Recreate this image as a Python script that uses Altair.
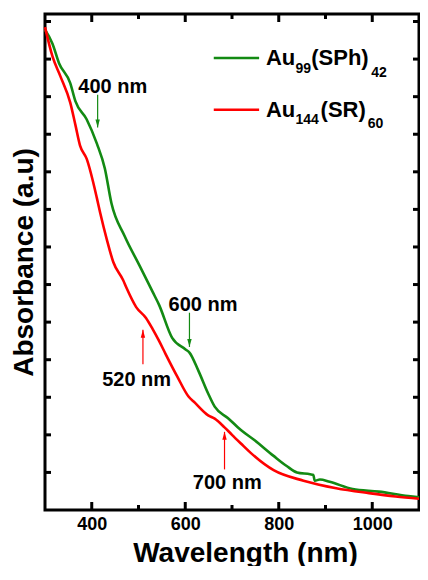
import altair as alt
import pandas as pd

# ---- data ----
green_nm = [300, 316, 330, 354, 365, 389, 411, 428, 442, 470, 502, 530, 544, 572, 600, 609,
            628, 649, 663, 691, 719, 747, 789, 817, 839, 867, 874, 877, 888, 909, 958, 1014,
            1077, 1100]
green_abs = [1.278, 1.241, 1.189, 1.136, 1.088, 1.040, 0.975, 0.909, 0.817, 0.730, 0.651,
             0.581, 0.546, 0.458, 0.428, 0.419, 0.371, 0.310, 0.275, 0.245, 0.213, 0.187,
             0.144, 0.117, 0.100, 0.095, 0.093, 0.078, 0.081, 0.075, 0.056, 0.049, 0.037, 0.034]

red_nm = [300, 316, 333, 354, 365, 375, 389, 411, 418, 432, 446, 467, 474, 495, 516, 530,
          544, 558, 583, 607, 621, 649, 663, 684, 700, 719, 740, 789, 853, 923, 993, 1050, 1100]
red_abs = [1.285, 1.207, 1.154, 1.084, 1.025, 0.970, 0.935, 0.830, 0.791, 0.721, 0.660,
           0.612, 0.592, 0.540, 0.511, 0.482, 0.450, 0.415, 0.355, 0.302, 0.285, 0.252,
           0.243, 0.220, 0.200, 0.177, 0.152, 0.106, 0.078, 0.058, 0.045, 0.036, 0.030]

series_names = ["Au99(SPh)42", "Au144(SR)60"]
series_colors = ["#138a13", "#ff0000"]

x_major = [400, 600, 800, 1000]
x_minor = [500, 700, 900]
y_ticks = [0.1, 0.2, 0.3, 0.4, 0.5, 0.6, 0.7, 0.8, 0.9, 1.0, 1.1, 1.2, 1.3]

ann_text = ["400 nm", "600 nm", "520 nm", "700 nm"]
ann_x = [445, 638, 496, 690]
ann_y = [1.110, 0.530, 0.331, 0.055]

arrow_x = [412.6, 609, 509.5, 684]
arrow_tail = [1.105, 0.525, 0.388, 0.108]
arrow_tip = [1.018, 0.434, 0.480, 0.208]
arrow_series = ["Au99(SPh)42", "Au99(SPh)42", "Au144(SR)60", "Au144(SR)60"]
arrow_dir = ["down", "down", "up", "up"]

leg_series = ["Au99(SPh)42", "Au144(SR)60"]
leg_x1 = [661, 661]
leg_x2 = [758, 758]
leg_y = [1.203, 1.065]

leg_big_text = ["Au", "(SPh)", "Au", "(SR)"]
leg_big_x = [772.6, 869.5, 772.6, 889.5]
leg_big_y = [1.185, 1.185, 1.046, 1.046]
leg_sub_text = ["99", "42", "144", "60"]
leg_sub_x = [835.8, 997.9, 835.8, 990.5]
leg_sub_y = [1.164, 1.153, 1.028, 1.017]

# ---- chart ----
W, H = 374, 496
FONT = "Liberation Sans"

xscale = alt.Scale(domain=[300, 1100], nice=False, zero=False)
yscale = alt.Scale(domain=[0, 1.32], nice=False, zero=False)
xaxis = alt.Axis(values=x_major, format="d", title="Wavelength (nm)", ticks=False, tickSize=0,
                 domain=False, grid=False, labelFontSize=18, labelFont=FONT,
                 labelFontWeight="bold", labelPadding=5, labelColor="black",
                 titleFontSize=28, titleFont=FONT, titleFontWeight="bold", titleColor="black",
                 titleX=200, titleY=51, titleBaseline="alphabetic", titleAlign="center")
yaxis = alt.Axis(title="Absorbance (a.u)", ticks=False, tickSize=0, domain=False, grid=False,
                 labels=False, titleFontSize=28, titleFont=FONT, titleFontWeight="bold",
                 titleColor="black", titlePadding=13, titleBaseline="alphabetic")

X = lambda f="x": alt.X(f"{f}:Q", scale=xscale, axis=xaxis)
Y = lambda f="y": alt.Y(f"{f}:Q", scale=yscale, axis=yaxis)
color = alt.Color("s:N", scale=alt.Scale(domain=series_names, range=series_colors), legend=None)

curves = pd.concat([
    pd.DataFrame({"x": green_nm, "y": green_abs, "s": series_names[0]}),
    pd.DataFrame({"x": red_nm, "y": red_abs, "s": series_names[1]}),
])
lines = alt.Chart(curves).mark_line(strokeWidth=2.6, interpolate="monotone").encode(
    x=X(), y=Y(), color=color, detail="s:N")

# inward ticks
xmaj = pd.DataFrame({"x": x_major})
xmin = pd.DataFrame({"x": x_minor})
ydf = pd.DataFrame({"y": y_ticks})
tk = dict(color="black", strokeWidth=3)
t1 = alt.Chart(xmaj).mark_rule(**tk).encode(x=X(), y=alt.value(H), y2=alt.value(H - 8))
t2 = alt.Chart(xmaj).mark_rule(**tk).encode(x=X(), y=alt.value(0), y2=alt.value(8))
t3 = alt.Chart(xmin).mark_rule(**tk).encode(x=X(), y=alt.value(H), y2=alt.value(H - 5))
t4 = alt.Chart(xmin).mark_rule(**tk).encode(x=X(), y=alt.value(0), y2=alt.value(5))
t5 = alt.Chart(ydf).mark_rule(**tk).encode(y=Y(), x=alt.value(0), x2=alt.value(6))
t6 = alt.Chart(ydf).mark_rule(**tk).encode(y=Y(), x=alt.value(W), x2=alt.value(W - 6))

# annotations
ann = pd.DataFrame({"x": ann_x, "y": ann_y, "t": ann_text})
ann_layer = alt.Chart(ann).mark_text(font=FONT, fontWeight="bold", fontSize=20, align="center",
                                     baseline="alphabetic", color="black").encode(
    x=X(), y=Y(), text="t:N")

arr = pd.DataFrame({"x": arrow_x, "y": arrow_tail, "y2": arrow_tip, "s": arrow_series, "d": arrow_dir})
arr_line = alt.Chart(arr).mark_rule(strokeWidth=1.2).encode(x=X(), y=Y(), y2="y2:Q", color=color)
path_down = "M-0.55,-2L0.55,-2L0,0Z"
path_up = "M-0.55,2L0.55,2L0,0Z"
arr_head = alt.Chart(arr).mark_point(filled=True, size=64, opacity=1, strokeWidth=0).encode(
    x=X(), y=Y("y2"), color=color,
    shape=alt.Shape("d:N", scale=alt.Scale(domain=["down", "up"], range=[path_down, path_up]), legend=None))

# legend
leg = pd.DataFrame({"x": leg_x1, "x2": leg_x2, "y": leg_y, "s": leg_series})
leg_lines = alt.Chart(leg).mark_rule(strokeWidth=2.6).encode(x=X(), x2="x2:Q", y=Y(), color=color)
big = pd.DataFrame({"x": leg_big_x, "y": leg_big_y, "t": leg_big_text})
sub = pd.DataFrame({"x": leg_sub_x, "y": leg_sub_y, "t": leg_sub_text})
big_layer = alt.Chart(big).mark_text(font=FONT, fontWeight="bold", fontSize=22, align="left",
                                     baseline="alphabetic", color="black").encode(x=X(), y=Y(), text="t:N")
sub_layer = alt.Chart(sub).mark_text(font=FONT, fontWeight="bold", fontSize=14, align="left",
                                     baseline="alphabetic", color="black").encode(x=X(), y=Y(), text="t:N")

chart = alt.layer(
    lines, t1, t2, t3, t4, t5, t6, arr_line, arr_head, ann_layer, leg_lines, big_layer, sub_layer
).properties(
    width=W, height=H,
    autosize=alt.AutoSizeParams(type="none"),
    padding={"left": 37, "top": 6, "right": 1, "bottom": 56},
    background="white",
).configure_view(stroke="black", strokeWidth=3)

chart.save("out.html", embed_options={"renderer": "svg", "actions": False})
